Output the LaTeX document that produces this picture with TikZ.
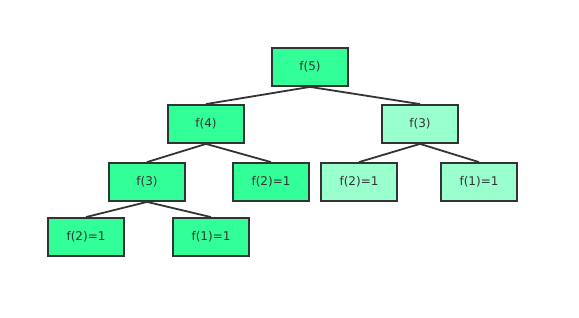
\documentclass[tikz,border=0pt]{standalone}
\usepackage{fontspec}
\setmainfont{DejaVu Sans}
\definecolor{darkg}{HTML}{33FF99}
\definecolor{lightg}{HTML}{99FFCC}
\definecolor{edgec}{HTML}{333333}
\begin{document}
\begin{tikzpicture}[x=1pt,y=-1pt,
  box/.style={draw=edgec,line width=1.8pt,minimum width=76pt,minimum height=38pt,inner sep=0pt,font=\fontsize{12}{14}\selectfont,text=edgec},
  dk/.style={box,fill=darkg},
  lt/.style={box,fill=lightg},
  edge/.style={draw=edgec,line width=1.8pt}]
\useasboundingbox (0,0) rectangle (579,318);
\node[dk] (f5) at (310,67) {f(5)};
\node[dk] (f4) at (206,124) {f(4)};
\node[lt] (f3r) at (420,124) {f(3)};
\node[dk] (f3l) at (147,182) {f(3)};
\node[dk] (f2m) at (271,182) {f(2)=1};
\node[lt] (f2r) at (359,182) {f(2)=1};
\node[lt] (f1r) at (479,182) {f(1)=1};
\node[dk] (f2b) at (86,237) {f(2)=1};
\node[dk] (f1b) at (211,237) {f(1)=1};
\draw[edge] (f5.south) -- (f4.north);
\draw[edge] (f5.south) -- (f3r.north);
\draw[edge] (f4.south) -- (f3l.north);
\draw[edge] (f4.south) -- (f2m.north);
\draw[edge] (f3r.south) -- (f2r.north);
\draw[edge] (f3r.south) -- (f1r.north);
\draw[edge] (f3l.south) -- (f2b.north);
\draw[edge] (f3l.south) -- (f1b.north);
\end{tikzpicture}
\end{document}
